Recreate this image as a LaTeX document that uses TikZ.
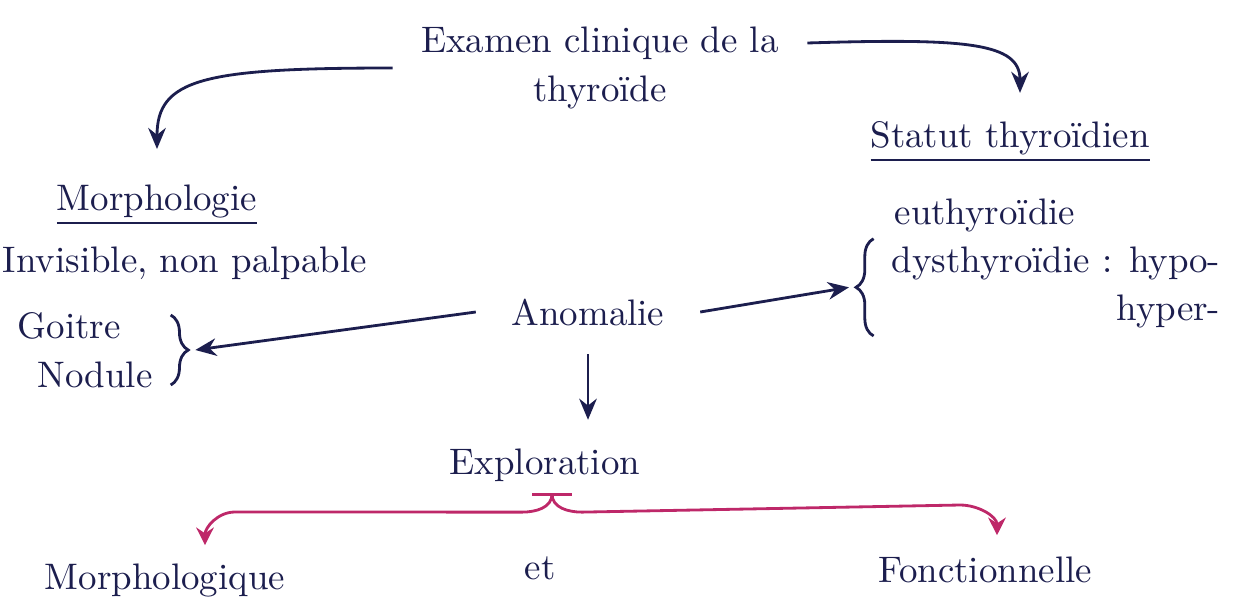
\documentclass[tikz,border=0pt]{standalone}
\usetikzlibrary{arrows.meta,decorations.pathreplacing,calc}
\definecolor{ink}{RGB}{28,30,78}
\definecolor{pinkink}{RGB}{190,40,105}
\tikzset{
  txt/.style={text=ink,font=\fontsize{10.5}{14}\selectfont,inner sep=2pt},
  arr/.style={draw=ink,line width=0.8pt,-{Stealth[length=6pt,width=5pt]}},
  pinkarr/.style={draw=pinkink,line width=0.8pt,-{Stealth[length=5pt,width=5pt]}},
  brc/.style={draw=ink,line width=0.8pt,decorate,decoration={brace,amplitude=5pt}}
}
\begin{document}
\begin{tikzpicture}
\useasboundingbox (0,0) rectangle (12.33,-6.15);
\node[txt,align=center] (exam) at (6.0,-0.68) {Examen clinique de la\\thyroïde};
\node[txt] (statut) at (10.1,-1.42) {\underline{Statut thyroïdien}};
\node[txt] (morph) at (1.57,-2.05) {\underline{Morphologie}};
\node[txt] (invis) at (1.85,-2.63) {Invisible, non palpable};
\node[txt] (anom) at (5.88,-3.12) {Anomalie};
\node[txt,align=left] (goit) at (0.85,-3.5) {Goitre\\\hspace{0.2cm}Nodule};
\node[txt] (eu) at (9.85,-2.15) {euthyroïdie};
\node[txt,anchor=east] (dys) at (12.28,-2.63) {dysthyroïdie : hypo-};
\node[txt,anchor=north east] (hyper) at (dys.south east) {hyper-};
\node[txt] (explo) at (5.45,-4.65) {Exploration};
\node[txt] (morphq) at (1.65,-5.8) {Morphologique};
\node[txt] (et) at (5.4,-5.68) {et};
\node[txt] (fonct) at (9.85,-5.70) {Fonctionnelle};

\draw[brc] ([shift={(3pt,-3pt)}]goit.north east) -- ([shift={(3pt,3pt)}]goit.south east);
\coordinate (lb) at ([xshift=10pt]goit.east);
\draw[brc] ([xshift=-3pt]dys.west |- hyper.south) -- ([xshift=-3pt]dys.north west);
\coordinate (rb) at ([xshift=-10pt]$(dys.north west)!0.5!(dys.west |- hyper.south)$);

\draw[arr] ([xshift=-6pt]exam.west) .. controls +(-1.9,0) and +(0,0.7) .. ([yshift=8pt]morph.north);
\draw[arr] ([shift={(6pt,0.25cm)}]exam.east) .. controls +(1.6,0.05) and +(0,0.5) .. ([shift={(0.1cm,6pt)}]statut.north);
\draw[arr] ([xshift=-8pt]anom.west) -- (lb);
\draw[arr] ([xshift=8pt]anom.east) -- (rb);
\draw[arr] ([yshift=-6pt]anom.south) -- ([yshift=6pt]anom.south |- explo.north);

\coordinate (fork) at ([shift={(0.07,-0.05)}]explo.south);
\draw[pinkink,line width=0.8pt] ([xshift=-0.2cm]fork) -- ([xshift=0.2cm]fork);
\draw[pinkarr] (fork) to[out=-90,in=0] ++(-0.3,-0.18) -- (2.35,-5.12) to[out=180,in=90] ([shift={(0.4cm,3pt)}]morphq.north);
\draw[pinkarr] (fork) to[out=-90,in=180] ++(0.3,-0.18) -- (9.6,-5.05) to[out=0,in=90] ([shift={(0.12cm,4pt)}]fonct.north);
\end{tikzpicture}
\end{document}
